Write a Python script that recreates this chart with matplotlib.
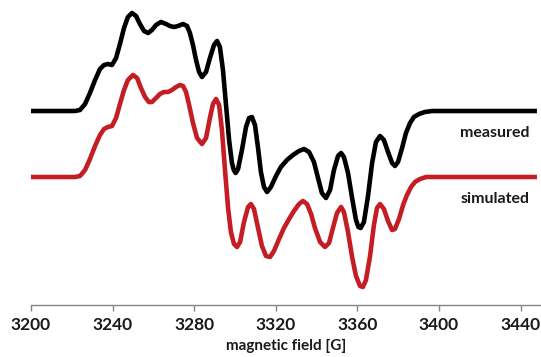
import matplotlib
matplotlib.use("Agg")
import matplotlib.pyplot as plt

# EPR spectra (field in G, intensity in arbitrary units)
field_meas = [3200, 3221.6, 3224.0, 3226.5, 3228.9, 3231.4, 3233.8, 3235.8, 3237.7, 3239.7,
              3241.7, 3243.6, 3245.6, 3247.5, 3249.5, 3251.5, 3253.4, 3255.4, 3257.4, 3259.3,
              3261.3, 3263.7, 3266.2, 3268.1, 3270.1, 3272.1, 3274.5, 3276.5, 3277.9, 3279.4,
              3280.9, 3282.4, 3283.8, 3285.8, 3287.7, 3289.7, 3291.2, 3292.6, 3294.1, 3295.6,
              3297.1, 3298.5, 3299.4, 3300.3, 3301.5, 3303.4, 3305.4, 3306.9, 3308.3, 3309.8, 3311.3,
              3312.7, 3314.2, 3315.7, 3317.6, 3320.1, 3322.5, 3325.5, 3328.4, 3331.4, 3333.8,
              3336.3, 3338.7, 3340.7, 3342.6, 3344.6, 3346.6, 3348.5, 3350.5, 3352.0, 3353.4,
              3355.4, 3357.4, 3359.3, 3360.5, 3361.6, 3363.2, 3365.2, 3367.2, 3369.1, 3371.1, 3373.0,
              3375.0, 3377.0, 3378.4, 3379.9, 3381.9, 3383.8, 3385.8, 3387.7, 3390.2, 3393.1,
              3396.6, 3448.0]
measured = [0, 0, 1, 7, 18, 31, 42, 46, 47, 46,
            53, 67, 83, 94, 98, 95, 87, 80, 78, 81,
            86, 89, 87, 85, 84, 85, 87, 85, 78, 66,
            51, 39, 34, 39, 53, 66, 70, 64, 41, 6,
            -29, -52, -59, -62, -58, -39, -16, -7, -6, -14, -37,
            -61, -76, -81, -76, -65, -56, -49, -44, -40, -38,
            -41, -51, -67, -82, -87, -79, -59, -45, -42, -46,
            -62, -87, -109, -116, -117, -111, -85, -52, -31, -25, -29,
            -41, -52, -55, -51, -37, -22, -12, -6, -3, -1,
            0, 0]

field_sim = [3200, 3221.6, 3224.0, 3226.5, 3228.9, 3231.4, 3233.8, 3235.8, 3237.7, 3239.7,
             3241.7, 3243.6, 3245.6, 3247.5, 3250.0, 3252.0, 3253.9, 3255.9, 3257.8, 3259.3,
             3261.3, 3263.2, 3265.2, 3267.2, 3269.1, 3271.1, 3273.0, 3274.5, 3276.0, 3277.5,
             3279.4, 3281.4, 3283.8, 3285.8, 3287.7, 3289.2, 3290.7, 3292.2, 3293.6, 3295.1,
             3296.6, 3298.0, 3299.5, 3301.0, 3302.5, 3304.4, 3306.4, 3307.8, 3309.3, 3311.3,
             3313.2, 3315.2, 3317.2, 3319.1, 3321.6, 3324.0, 3326.5, 3328.9, 3331.4, 3333.3,
             3335.3, 3337.3, 3339.2, 3341.7, 3344.1, 3346.1, 3348.0, 3350.0, 3352.0, 3353.4,
             3355.4, 3357.4, 3359.3, 3361.3, 3362.7, 3364.2, 3366.2, 3368.1, 3369.6, 3371.1,
             3373.0, 3375.0, 3377.0, 3378.4, 3380.4, 3382.4, 3384.3, 3386.3, 3388.2, 3390.7,
             3393.6, 3448.0]
simulated = [0, 0, 1, 7, 18, 31, 42, 48, 50, 51,
             59, 73, 87, 97, 102, 99, 89, 80, 75, 75,
             79, 83, 85, 85, 87, 90, 92, 91, 85, 72,
             54, 39, 33, 39, 59, 73, 78, 72, 47, 7,
             -31, -55, -67, -70, -65, -45, -30, -27, -32, -51,
             -69, -79, -80, -74, -62, -51, -42, -34, -27, -24,
             -27, -37, -51, -65, -70, -66, -51, -36, -30, -35,
             -55, -80, -99, -109, -110, -103, -79, -48, -31, -27,
             -32, -44, -53, -52, -42, -28, -18, -10, -5, -2,
             0, 0]

offset = 66
xticks = [3200, 3240, 3280, 3320, 3360, 3400, 3440]

plt.rcParams['font.family'] = ['Lato', 'DejaVu Sans']

fig = plt.figure(figsize=(5.41, 3.57), dpi=100)
ax = fig.add_axes([31/541, 52/357, 510/541, 305/357])

ax.plot(field_meas, [v + offset for v in measured], color='black', lw=3.3,
        solid_capstyle='butt', solid_joinstyle='round')
ax.plot(field_sim, simulated, color='#c41e24', lw=3.3,
        solid_capstyle='butt', solid_joinstyle='round')

ax.text(3444.6, 44, 'measured', ha='right', va='center', fontsize=11.5, fontweight='bold', color='#1a1a1a')
ax.text(3444.6, -22, 'simulated', ha='right', va='center', fontsize=11.5, fontweight='bold', color='#1a1a1a')

ax.set_xlim(3200, 3450)
ax.set_ylim(-128, 177)
ax.set_xticks(xticks)
ax.set_xticklabels([str(t) for t in xticks], fontweight='bold', fontsize=12.5, color='#1a1a1a')
ax.set_yticks([])
for s in ['top', 'right', 'left']:
    ax.spines[s].set_visible(False)
ax.spines['bottom'].set_color('#868686')
ax.spines['bottom'].set_linewidth(1.0)
ax.tick_params(axis='x', direction='out', length=4, width=1.0, color='#868686', pad=5)
ax.set_xlabel('magnetic field [G]', fontweight='bold', fontsize=11, color='#1a1a1a', labelpad=4)

plt.savefig('out.png', dpi=100)
